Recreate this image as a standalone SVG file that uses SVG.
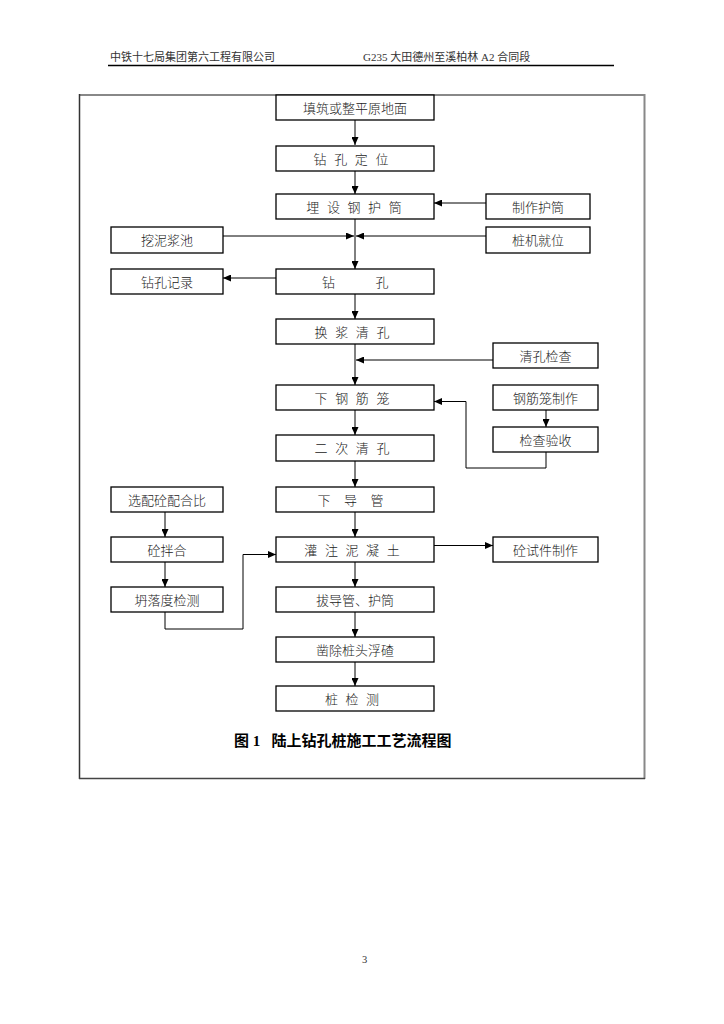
<svg xmlns="http://www.w3.org/2000/svg" width="724" height="1024" viewBox="0 0 724 1024">
<style>
.box{fill:#fff;stroke:#000;stroke-width:1.3}
.t{font-family:"Liberation Sans","Noto Sans CJK SC",sans-serif;font-size:13px;font-weight:300;fill:#222;text-anchor:middle}
.sp{letter-spacing:2px}
.hd{font-family:"Liberation Serif","Noto Sans CJK SC",serif;font-size:11px;fill:#333}
.c{fill:none;stroke:#000;stroke-width:1}
</style>
<defs>
<marker id="ah" markerUnits="userSpaceOnUse" markerWidth="8" markerHeight="7" refX="8" refY="3.5" orient="auto">
<path d="M0,0 L8,3.5 L0,7 z" fill="#000"/>
</marker>
</defs>
<rect width="724" height="1024" fill="#fff"/>
<g id="header">
<text class="hd" x="110" y="61">中铁十七局集团第六工程有限公司</text>
<text class="hd" x="363" y="61">G235 大田德州至溪柏林 A2 合同段</text>
<line x1="108" y1="65.5" x2="614" y2="65.5" stroke="#000" stroke-width="1.3"/>
</g>
<g id="frame">
<line x1="79" y1="95" x2="645" y2="95" stroke="#888" stroke-width="2"/>
<line x1="644.5" y1="94" x2="644.5" y2="779" stroke="#888" stroke-width="2"/>
<line x1="79.5" y1="94" x2="79.5" y2="779" stroke="#333" stroke-width="1.5"/>
<line x1="79" y1="778.5" x2="645" y2="778.5" stroke="#444" stroke-width="1.5"/>
</g>
<g id="connectors">
<path class="c" d="M355,120 V145" marker-end="url(#ah)"/>
<path class="c" d="M355,171 V194" marker-end="url(#ah)"/>
<path class="c" d="M355,219 V269" marker-end="url(#ah)"/>
<path class="c" d="M223,236 H354" marker-end="url(#ah)"/>
<path class="c" d="M486,236 H356" marker-end="url(#ah)"/>
<path class="c" d="M486,203 H434" marker-end="url(#ah)"/>
<path class="c" d="M276,278 H223" marker-end="url(#ah)"/>
<path class="c" d="M355,294 V319" marker-end="url(#ah)"/>
<path class="c" d="M355,344 V385" marker-end="url(#ah)"/>
<path class="c" d="M493,360 H356" marker-end="url(#ah)"/>
<path class="c" d="M355,410 V435" marker-end="url(#ah)"/>
<path class="c" d="M546,410 V427" marker-end="url(#ah)"/>
<path class="c" d="M546,452 V468 H466 V401.5 H434" marker-end="url(#ah)"/>
<path class="c" d="M355,461 V487" marker-end="url(#ah)"/>
<path class="c" d="M355,512 V537" marker-end="url(#ah)"/>
<path class="c" d="M165,512 V537" marker-end="url(#ah)"/>
<path class="c" d="M165,562 V587" marker-end="url(#ah)"/>
<path class="c" d="M165,612 V629 H243 V554.5 H276" marker-end="url(#ah)"/>
<path class="c" d="M434,545.5 H493" marker-end="url(#ah)"/>
<path class="c" d="M355,562 V587" marker-end="url(#ah)"/>
<path class="c" d="M355,612 V637" marker-end="url(#ah)"/>
<path class="c" d="M355,662 V686" marker-end="url(#ah)"/>
</g>
<g id="n1"><rect class="box" x="276" y="95" width="158" height="25"/><text class="t" x="355" y="112.5">填筑或整平原地面</text></g>
<g id="n2"><rect class="box" x="276" y="146" width="158" height="25"/><text class="t sp" x="352" y="163.5">钻 孔 定 位</text></g>
<g id="n3"><rect class="box" x="276" y="194" width="158" height="25"/><text class="t sp" x="355" y="211.5">埋 设 钢 护 筒</text></g>
<g id="n3b"><rect class="box" x="486" y="194" width="104" height="25"/><text class="t" x="538" y="211.5">制作护筒</text></g>
<g id="n3c"><rect class="box" x="111" y="227" width="112" height="26"/><text class="t" x="167" y="244.5">挖泥浆池</text></g>
<g id="n3d"><rect class="box" x="486" y="227" width="104" height="26"/><text class="t" x="538" y="244.5">桩机就位</text></g>
<g id="n4"><rect class="box" x="276" y="269" width="158" height="25"/><text class="t" x="355.5" y="286.5" xml:space="preserve" style="letter-spacing:0.4px">钻          孔</text></g>
<g id="n4b"><rect class="box" x="111" y="269" width="112" height="25"/><text class="t" x="167" y="286.5">钻孔记录</text></g>
<g id="n5"><rect class="box" x="276" y="319" width="158" height="25"/><text class="t sp" x="353" y="336.5">换 浆 清 孔</text></g>
<g id="n5b"><rect class="box" x="493" y="343" width="105" height="25"/><text class="t" x="545.5" y="360.5">清孔检查</text></g>
<g id="n6"><rect class="box" x="276" y="385" width="158" height="25"/><text class="t sp" x="353" y="402.5">下 钢 筋 笼</text></g>
<g id="n6b"><rect class="box" x="493" y="385" width="105" height="25"/><text class="t" x="545.5" y="402.5">钢筋笼制作</text></g>
<g id="n6c"><rect class="box" x="493" y="427" width="105" height="25"/><text class="t" x="545.5" y="444.5">检查验收</text></g>
<g id="n7"><rect class="box" x="276" y="435" width="158" height="26"/><text class="t sp" x="353" y="453">二 次 清 孔</text></g>
<g id="n8"><rect class="box" x="276" y="487" width="158" height="25"/><text class="t" x="353" y="504.5" style="letter-spacing:5px">下 导 管</text></g>
<g id="n8b"><rect class="box" x="111" y="487" width="112" height="25"/><text class="t" x="167" y="504.5">选配砼配合比</text></g>
<g id="n9"><rect class="box" x="276" y="537" width="158" height="25"/><text class="t sp" x="353" y="554.5">灌 注 泥 凝 土</text></g>
<g id="n9b"><rect class="box" x="111" y="537" width="112" height="25"/><text class="t" x="167" y="554.5">砼拌合</text></g>
<g id="n9c"><rect class="box" x="493" y="537" width="105" height="25"/><text class="t" x="545.5" y="554.5">砼试件制作</text></g>
<g id="n10"><rect class="box" x="276" y="587" width="158" height="25"/><text class="t" x="355" y="604.5">拔导管、护筒</text></g>
<g id="n10b"><rect class="box" x="111" y="587" width="112" height="25"/><text class="t" x="167" y="604.5">坍落度检测</text></g>
<g id="n11"><rect class="box" x="276" y="637" width="158" height="25"/><text class="t" x="355" y="654.5">凿除桩头浮碴</text></g>
<g id="n12"><rect class="box" x="276" y="686" width="158" height="25"/><text class="t sp" x="353" y="703.5">桩 检 测</text></g>
<g id="title">
<text x="234" y="746" xml:space="preserve" style="font-family:'Liberation Serif','Noto Sans CJK SC',serif;font-size:15px;font-weight:bold;fill:#000">图 1   陆上钻孔桩施工工艺流程图</text>
</g>
<g id="page">
<text x="362" y="963" style="font-family:'Liberation Serif',serif;font-size:10.5px;fill:#333">3</text>
</g>
</svg>
